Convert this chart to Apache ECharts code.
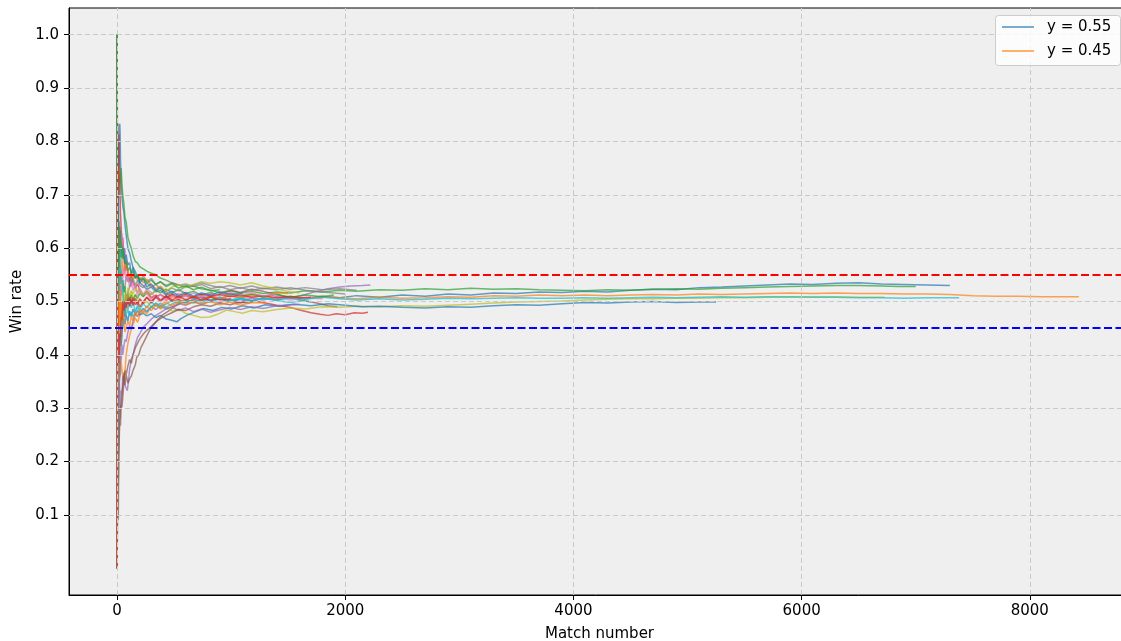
<!DOCTYPE html>
<html>
<head>
<meta charset="utf-8">
<title>Win rate by match number</title>
<script src="https://cdn.jsdelivr.net/npm/echarts@6/dist/echarts.min.js"></script>
<style>
  html, body { margin: 0; padding: 0; background: #ffffff; }
  #chart { width: 1121px; height: 641px; }
</style>
</head>
<body>
<div id="chart"></div>
<script>
// Axis ticks
const xTicks = [0, 2000, 4000, 6000, 8000];
const yTicks = [0.1, 0.2, 0.3, 0.4, 0.5, 0.6, 0.7, 0.8, 0.9, 1.0];

// Horizontal reference levels
const refLevels = [0.55, 0.45];
const refColors = ['#ff0000', '#0000ff'];

// Legend labels (attached to the first two runs)
const legendLabels = ['y = 0.55', 'y = 0.45'];

// Cumulative win rate per run: [match number, win rate]
const run01 = [[1,1],[2,1],[3,0.667],[4,0.75],[6,0.833],[8,0.75],[10,0.8],[13,0.769],[16,0.75],[20,0.8],[24,0.833],[27,0.815],[30,0.767],[36,0.722],[43,0.698],[50,0.68],[60,0.667],[70,0.643],[80,0.625],[95,0.6],[110,0.591],[125,0.576],[140,0.564],[160,0.556],[180,0.544],[200,0.535],[230,0.53],[260,0.523],[300,0.527],[340,0.518],[380,0.521],[430,0.512],[480,0.515],[540,0.507],[600,0.512],[670,0.505],[740,0.509],[820,0.502],[900,0.506],[990,0.5],[1080,0.505],[1180,0.501],[1280,0.507],[1400,0.503],[1520,0.509],[1650,0.505],[1800,0.51],[1950,0.507],[2100,0.511],[2300,0.508],[2500,0.512],[2700,0.51],[2900,0.514],[3100,0.512],[3300,0.516],[3500,0.515],[3700,0.518],[3900,0.517],[4100,0.519],[4300,0.518],[4500,0.521],[4700,0.523],[4900,0.522],[5100,0.526],[5300,0.527],[5500,0.529],[5700,0.531],[5900,0.533],[6100,0.532],[6300,0.534],[6500,0.535],[6700,0.533],[6900,0.532],[7100,0.531],[7300,0.53]];
const run02 = [[1,0],[2,0.5],[3,0.333],[4,0.5],[5,0.4],[6,0.5],[8,0.375],[10,0.4],[13,0.385],[16,0.438],[20,0.4],[25,0.36],[30,0.367],[36,0.389],[43,0.372],[50,0.36],[60,0.35],[70,0.371],[80,0.4],[95,0.421],[110,0.436],[125,0.448],[140,0.457],[160,0.469],[180,0.461],[200,0.475],[230,0.483],[260,0.477],[300,0.49],[340,0.497],[380,0.492],[430,0.502],[480,0.51],[540,0.504],[600,0.512],[670,0.507],[740,0.514],[820,0.51],[900,0.505],[990,0.511],[1080,0.507],[1180,0.512],[1280,0.509],[1400,0.505],[1520,0.509],[1650,0.506],[1800,0.51],[1950,0.507],[2100,0.505],[2300,0.508],[2500,0.506],[2700,0.507],[2900,0.509],[3100,0.508],[3300,0.511],[3500,0.51],[3700,0.512],[3900,0.511],[4100,0.512],[4300,0.511],[4500,0.512],[4700,0.513],[4900,0.512],[5100,0.514],[5300,0.513],[5500,0.514],[5700,0.515],[5900,0.516],[6100,0.515],[6300,0.516],[6500,0.515],[6700,0.515],[6900,0.514],[7100,0.514],[7300,0.513],[7500,0.511],[7700,0.51],[7900,0.51],[8100,0.509],[8430,0.509]];
const run03 = [[1,1],[2,0.5],[3,0.667],[4,0.75],[5,0.8],[6,0.667],[8,0.75],[10,0.7],[13,0.692],[16,0.75],[20,0.7],[25,0.72],[30,0.733],[36,0.75],[43,0.721],[50,0.7],[60,0.683],[70,0.657],[80,0.65],[95,0.621],[110,0.609],[125,0.6],[140,0.586],[160,0.575],[180,0.572],[200,0.565],[230,0.561],[260,0.557],[300,0.553],[340,0.55],[380,0.544],[430,0.54],[480,0.535],[540,0.531],[600,0.527],[670,0.529],[740,0.524],[820,0.521],[900,0.517],[990,0.52],[1080,0.516],[1180,0.519],[1280,0.515],[1400,0.518],[1520,0.516],[1650,0.52],[1800,0.518],[1950,0.521],[2100,0.519],[2300,0.522],[2500,0.521],[2700,0.524],[2900,0.522],[3100,0.525],[3300,0.523],[3500,0.524],[3700,0.522],[3900,0.521],[4100,0.52],[4300,0.522],[4500,0.521],[4700,0.523],[4900,0.524],[5100,0.523],[5300,0.525],[5500,0.526],[5700,0.527],[5900,0.528],[6100,0.529],[6300,0.53],[6500,0.53],[6700,0.529],[6850,0.528],[7000,0.528]];
const run04 = [[1,1],[2,1],[3,1],[4,0.75],[5,0.8],[6,0.833],[8,0.75],[10,0.7],[13,0.769],[16,0.813],[20,0.75],[25,0.72],[30,0.667],[36,0.639],[43,0.605],[50,0.62],[60,0.583],[70,0.557],[80,0.575],[95,0.547],[110,0.536],[125,0.552],[140,0.536],[160,0.525],[180,0.533],[200,0.52],[230,0.513],[260,0.519],[300,0.507],[340,0.512],[380,0.503],[430,0.509],[480,0.5],[540,0.504],[600,0.498],[670,0.503],[740,0.508],[820,0.502],[900,0.506],[990,0.501],[1080,0.497],[1180,0.502],[1280,0.498],[1400,0.493],[1520,0.489],[1600,0.484],[1700,0.479],[1780,0.476],[1850,0.474],[1920,0.477],[2000,0.475],[2080,0.479],[2150,0.478],[2200,0.48]];
const run05 = [[1,0],[2,0],[3,0.333],[4,0.25],[5,0.4],[6,0.333],[8,0.25],[10,0.3],[13,0.231],[16,0.313],[20,0.35],[25,0.32],[30,0.3],[36,0.333],[43,0.326],[50,0.36],[60,0.35],[70,0.343],[80,0.338],[90,0.333],[100,0.35],[110,0.373],[125,0.392],[140,0.4],[160,0.419],[180,0.433],[200,0.44],[230,0.452],[260,0.458],[300,0.467],[340,0.474],[380,0.479],[430,0.486],[480,0.49],[540,0.496],[600,0.493],[670,0.499],[740,0.495],[820,0.501],[900,0.498],[990,0.504],[1080,0.5],[1180,0.506],[1280,0.503],[1400,0.509],[1520,0.506],[1650,0.513],[1750,0.519],[1850,0.524],[1950,0.527],[2050,0.529],[2150,0.53],[2220,0.531]];
const run06 = [[1,0],[2,0],[3,0],[4,0.25],[5,0.2],[6,0.167],[8,0.25],[10,0.2],[13,0.231],[16,0.25],[20,0.3],[25,0.28],[30,0.3],[36,0.306],[43,0.326],[50,0.34],[60,0.367],[70,0.343],[80,0.363],[95,0.347],[110,0.355],[125,0.36],[140,0.371],[160,0.381],[172,0.395],[190,0.4],[210,0.414],[230,0.422],[260,0.435],[290,0.448],[320,0.456],[360,0.467],[400,0.475],[450,0.482],[500,0.49],[560,0.497],[620,0.503],[690,0.499],[760,0.506],[840,0.51],[920,0.515],[1000,0.521],[1080,0.517],[1180,0.523],[1280,0.519],[1400,0.513],[1520,0.507],[1650,0.501],[1750,0.497],[1850,0.492],[1930,0.49]];
const run07 = [[1,1],[2,0.5],[3,0.667],[4,0.5],[5,0.6],[6,0.5],[8,0.625],[10,0.6],[13,0.538],[16,0.563],[20,0.6],[25,0.64],[30,0.633],[36,0.611],[43,0.628],[50,0.6],[60,0.583],[70,0.6],[80,0.575],[95,0.558],[110,0.545],[125,0.528],[140,0.536],[160,0.525],[180,0.511],[200,0.52],[230,0.509],[260,0.515],[300,0.503],[340,0.509],[380,0.5],[430,0.507],[480,0.513],[540,0.506],[600,0.51],[670,0.503],[740,0.508],[820,0.512],[900,0.507],[990,0.511],[1080,0.506],[1180,0.509],[1280,0.504],[1400,0.508],[1520,0.503],[1650,0.507],[1800,0.505]];
const run08 = [[1,1],[2,1],[3,0.667],[4,0.5],[5,0.6],[6,0.667],[8,0.5],[10,0.5],[13,0.462],[16,0.5],[20,0.55],[25,0.52],[30,0.5],[36,0.528],[43,0.512],[50,0.54],[60,0.517],[70,0.529],[80,0.55],[95,0.537],[110,0.545],[125,0.536],[140,0.55],[160,0.544],[180,0.55],[200,0.54],[230,0.548],[260,0.538],[300,0.543],[340,0.532],[380,0.537],[430,0.53],[480,0.535],[540,0.53],[600,0.533],[670,0.528],[740,0.532],[820,0.524],[900,0.528],[990,0.522],[1080,0.526],[1180,0.521],[1280,0.525],[1400,0.522],[1520,0.526],[1650,0.521],[1800,0.518],[1900,0.516],[2000,0.514]];
const run09 = [[1,0],[2,0.5],[3,0.667],[4,0.5],[5,0.4],[6,0.5],[8,0.5],[10,0.4],[13,0.462],[16,0.438],[20,0.45],[25,0.48],[30,0.467],[36,0.5],[43,0.488],[50,0.46],[60,0.483],[70,0.471],[80,0.488],[95,0.505],[110,0.491],[125,0.52],[140,0.507],[160,0.513],[180,0.5],[200,0.505],[230,0.496],[260,0.5],[300,0.49],[340,0.494],[380,0.486],[430,0.49],[480,0.482],[540,0.486],[600,0.478],[670,0.474],[740,0.47],[812,0.471],[880,0.476],[960,0.484],[1030,0.481],[1100,0.478],[1180,0.483],[1280,0.481],[1400,0.485],[1520,0.488],[1650,0.486],[1800,0.49],[1950,0.489],[2100,0.491],[2300,0.49],[2500,0.492],[2700,0.491],[2900,0.493],[3100,0.495],[3300,0.497],[3500,0.499],[3700,0.5],[3900,0.501],[4100,0.503],[4300,0.504],[4500,0.505],[4700,0.505],[4900,0.506],[5100,0.506],[5300,0.507],[5500,0.507],[5700,0.508],[5900,0.508],[6100,0.509],[6300,0.509],[6500,0.508],[6725,0.508]];
const run10 = [[1,0],[2,0],[3,0],[4,0],[5,0.2],[6,0.167],[8,0.25],[10,0.3],[13,0.385],[16,0.375],[20,0.4],[25,0.44],[30,0.467],[36,0.444],[43,0.465],[50,0.48],[60,0.467],[70,0.486],[80,0.5],[95,0.484],[110,0.5],[125,0.488],[140,0.5],[160,0.481],[180,0.494],[200,0.485],[230,0.496],[260,0.488],[300,0.5],[340,0.491],[380,0.497],[430,0.489],[480,0.495],[540,0.502],[600,0.497],[670,0.504],[740,0.498],[820,0.503],[900,0.508],[990,0.503],[1080,0.507],[1180,0.502],[1280,0.506],[1400,0.503],[1520,0.507],[1650,0.504],[1800,0.508],[1950,0.505],[2100,0.503],[2300,0.505],[2500,0.503],[2700,0.504],[2900,0.506],[3100,0.505],[3300,0.506],[3500,0.507],[3700,0.506],[3900,0.506],[4100,0.507],[4300,0.506],[4500,0.507],[4700,0.508],[4900,0.507],[5100,0.508],[5300,0.509],[5500,0.508],[5700,0.509],[5900,0.509],[6100,0.508],[6300,0.508],[6500,0.507],[6700,0.507],[6900,0.506],[7100,0.507],[7380,0.507]];
const run11 = [[1,0],[2,0.5],[3,0.333],[4,0.25],[5,0.4],[6,0.333],[8,0.375],[10,0.4],[13,0.462],[16,0.5],[20,0.45],[25,0.48],[30,0.433],[36,0.417],[43,0.442],[50,0.44],[60,0.467],[70,0.457],[80,0.475],[95,0.463],[110,0.482],[125,0.472],[140,0.486],[160,0.475],[180,0.483],[200,0.475],[230,0.478],[260,0.473],[300,0.477],[340,0.47],[380,0.474],[430,0.467],[480,0.465],[523,0.462],[560,0.468],[620,0.475],[690,0.481],[760,0.487],[840,0.483],[920,0.489],[1000,0.486],[1100,0.492],[1200,0.488],[1300,0.494],[1420,0.491],[1550,0.495],[1700,0.492],[1850,0.496],[2000,0.493],[2150,0.49],[2300,0.491],[2500,0.489],[2700,0.488],[2900,0.49],[3100,0.489],[3300,0.492],[3500,0.494],[3700,0.493],[3900,0.496],[4100,0.498],[4300,0.497],[4500,0.499],[4700,0.5],[4900,0.498],[5100,0.499],[5250,0.499]];
const run12 = [[1,1],[2,0.5],[3,0.333],[4,0.5],[5,0.6],[6,0.5],[8,0.5],[10,0.6],[13,0.538],[16,0.5],[20,0.55],[25,0.52],[30,0.567],[36,0.556],[43,0.581],[50,0.56],[60,0.55],[70,0.571],[80,0.563],[95,0.558],[110,0.545],[125,0.552],[140,0.543],[160,0.55],[180,0.539],[200,0.545],[230,0.535],[260,0.542],[300,0.53],[340,0.524],[380,0.529],[430,0.519],[480,0.504],[540,0.498],[600,0.505],[670,0.497],[740,0.503],[820,0.509],[900,0.505],[990,0.511],[1080,0.507],[1180,0.513],[1280,0.51],[1400,0.516],[1500,0.515]];
const run13 = [[1,0],[2,0.5],[3,0.333],[4,0.5],[5,0.4],[6,0.5],[8,0.5],[10,0.6],[13,0.615],[16,0.563],[20,0.6],[25,0.56],[30,0.533],[36,0.556],[43,0.535],[50,0.54],[60,0.517],[70,0.529],[80,0.5],[95,0.516],[110,0.5],[125,0.512],[140,0.5],[160,0.513],[180,0.506],[200,0.515],[230,0.509],[260,0.519],[300,0.513],[340,0.521],[380,0.516],[430,0.523],[480,0.517],[540,0.522],[600,0.515],[670,0.519],[740,0.512],[820,0.517],[900,0.511],[990,0.515],[1080,0.51],[1180,0.514],[1280,0.509],[1400,0.513],[1520,0.508],[1650,0.512],[1800,0.509],[1900,0.512]];
const run14 = [[1,1],[2,0.5],[3,0.667],[4,0.75],[5,0.6],[6,0.667],[8,0.625],[10,0.5],[13,0.538],[16,0.5],[20,0.45],[25,0.48],[30,0.5],[36,0.472],[43,0.488],[50,0.5],[60,0.483],[70,0.5],[80,0.513],[95,0.495],[110,0.509],[125,0.496],[140,0.507],[160,0.494],[180,0.5],[200,0.49],[230,0.5],[260,0.508],[300,0.5],[340,0.509],[380,0.513],[430,0.507],[480,0.513],[540,0.509],[600,0.514],[670,0.508],[740,0.513],[820,0.51],[900,0.514],[990,0.509],[1080,0.512],[1180,0.508],[1280,0.511],[1400,0.507],[1520,0.51],[1600,0.507],[1700,0.508]];
const run15 = [[1,0],[2,0.5],[3,0.333],[4,0.25],[5,0.2],[6,0.333],[8,0.375],[10,0.3],[13,0.308],[16,0.375],[20,0.35],[25,0.36],[30,0.4],[36,0.389],[43,0.419],[50,0.4],[60,0.417],[70,0.429],[80,0.425],[95,0.442],[110,0.455],[125,0.448],[140,0.464],[160,0.475],[180,0.472],[200,0.48],[230,0.487],[260,0.481],[300,0.49],[340,0.485],[380,0.492],[430,0.486],[480,0.49],[540,0.483],[600,0.488],[670,0.481],[740,0.486],[820,0.48],[900,0.484],[990,0.489],[1080,0.485],[1180,0.49],[1280,0.487],[1400,0.492],[1520,0.494],[1600,0.495]];
const run16 = [[1,0],[2,0],[4,0],[6,0.167],[8,0.125],[11,0.091],[13,0.154],[16,0.188],[20,0.25],[25,0.28],[30,0.267],[36,0.306],[43,0.302],[50,0.32],[60,0.35],[70,0.371],[80,0.363],[95,0.379],[110,0.391],[125,0.384],[140,0.4],[160,0.413],[180,0.422],[200,0.43],[230,0.439],[260,0.446],[300,0.453],[340,0.462],[380,0.468],[430,0.474],[480,0.479],[540,0.485],[600,0.483],[670,0.49],[740,0.494],[820,0.491],[900,0.497],[990,0.494],[1080,0.499],[1150,0.497],[1200,0.5]];
const run17 = [[1,1],[2,0.5],[3,0.667],[4,0.5],[5,0.4],[6,0.5],[8,0.375],[10,0.4],[13,0.462],[16,0.438],[20,0.5],[25,0.52],[30,0.5],[36,0.528],[43,0.558],[50,0.54],[60,0.567],[70,0.557],[80,0.538],[95,0.547],[110,0.527],[125,0.536],[140,0.521],[160,0.531],[180,0.517],[200,0.525],[230,0.513],[260,0.523],[300,0.517],[340,0.506],[380,0.513],[430,0.502],[480,0.508],[540,0.515],[600,0.51],[670,0.516],[740,0.509],[820,0.515],[900,0.511],[990,0.517],[1080,0.512],[1180,0.516],[1280,0.511],[1400,0.513]];
const run18 = [[1,0],[2,0],[3,0.333],[4,0.25],[5,0.2],[6,0.167],[8,0.25],[10,0.2],[13,0.231],[16,0.313],[20,0.35],[25,0.4],[30,0.433],[36,0.417],[43,0.442],[50,0.46],[60,0.483],[70,0.471],[80,0.5],[95,0.516],[110,0.527],[125,0.536],[140,0.543],[160,0.531],[180,0.539],[200,0.53],[230,0.526],[260,0.535],[300,0.527],[340,0.532],[380,0.524],[430,0.519],[480,0.525],[540,0.52],[600,0.528],[670,0.531],[740,0.535],[820,0.53],[900,0.526],[990,0.53],[1080,0.525],[1180,0.529],[1280,0.524],[1400,0.527],[1520,0.523],[1650,0.526],[1800,0.522],[1950,0.524],[2100,0.521]];
const run19 = [[1,1],[2,1],[3,0.667],[4,0.75],[5,0.6],[6,0.5],[8,0.5],[10,0.5],[13,0.538],[16,0.5],[20,0.45],[25,0.44],[30,0.467],[36,0.5],[43,0.488],[50,0.52],[60,0.5],[70,0.514],[80,0.5],[95,0.526],[110,0.509],[125,0.52],[140,0.514],[160,0.525],[180,0.517],[200,0.52],[230,0.513],[260,0.519],[300,0.513],[340,0.521],[380,0.526],[430,0.52],[480,0.527],[540,0.531],[600,0.526],[670,0.532],[740,0.537],[820,0.534],[900,0.537],[990,0.535],[1080,0.531],[1180,0.535],[1280,0.529],[1400,0.524],[1500,0.519],[1600,0.516]];
const run20 = [[1,0],[2,0.5],[3,0.667],[4,0.5],[5,0.6],[6,0.5],[8,0.625],[10,0.5],[13,0.538],[16,0.5],[20,0.55],[25,0.6],[30,0.567],[36,0.556],[43,0.535],[50,0.52],[60,0.5],[70,0.486],[80,0.475],[95,0.484],[110,0.473],[125,0.48],[140,0.471],[160,0.481],[180,0.489],[200,0.48],[230,0.487],[260,0.481],[300,0.49],[340,0.497],[380,0.489],[430,0.495],[480,0.502],[540,0.496],[600,0.503],[670,0.498],[740,0.504],[820,0.499],[900,0.505],[990,0.5],[1080,0.505],[1180,0.501],[1280,0.506],[1400,0.502],[1520,0.498],[1600,0.501],[1700,0.5]];
const run21 = [[1,1],[2,1],[3,0.667],[4,0.75],[5,0.8],[6,0.667],[8,0.625],[10,0.7],[13,0.692],[16,0.625],[20,0.65],[25,0.6],[30,0.633],[36,0.583],[43,0.605],[50,0.58],[60,0.6],[70,0.571],[80,0.588],[95,0.568],[110,0.573],[125,0.552],[140,0.564],[160,0.544],[180,0.55],[200,0.535],[230,0.543],[260,0.527],[300,0.533],[340,0.521],[380,0.526],[430,0.514],[480,0.519],[540,0.511],[600,0.517],[670,0.51],[740,0.516],[820,0.512],[900,0.518],[990,0.513],[1100,0.515]];
const run22 = [[1,0],[2,0],[3,0.333],[4,0.5],[5,0.4],[6,0.333],[8,0.375],[10,0.5],[13,0.462],[16,0.5],[20,0.45],[25,0.52],[30,0.5],[36,0.472],[43,0.465],[50,0.48],[60,0.467],[70,0.443],[80,0.45],[95,0.463],[110,0.455],[125,0.472],[140,0.464],[160,0.481],[180,0.472],[200,0.485],[230,0.478],[260,0.492],[300,0.483],[340,0.494],[380,0.487],[430,0.498],[480,0.492],[540,0.5],[600,0.494],[670,0.501],[740,0.495],[820,0.5],[900,0.494],[990,0.499],[1080,0.493],[1180,0.498],[1300,0.497]];
const run23 = [[1,1],[2,0.5],[3,0.667],[4,0.5],[5,0.6],[6,0.667],[8,0.625],[10,0.6],[13,0.615],[16,0.563],[20,0.6],[25,0.64],[30,0.6],[36,0.611],[43,0.581],[50,0.6],[60,0.583],[70,0.571],[80,0.575],[95,0.558],[110,0.564],[125,0.552],[140,0.557],[160,0.544],[180,0.55],[200,0.54],[230,0.543],[260,0.535],[300,0.54],[340,0.532],[380,0.537],[430,0.528],[480,0.533],[540,0.525],[600,0.53],[670,0.522],[740,0.527],[820,0.52],[900,0.522]];
const run24 = [[1,0],[2,0.5],[3,0.667],[4,0.75],[5,0.6],[6,0.5],[8,0.5],[10,0.4],[13,0.385],[16,0.438],[20,0.4],[25,0.44],[30,0.433],[36,0.472],[43,0.465],[50,0.5],[60,0.483],[70,0.5],[80,0.488],[95,0.505],[110,0.491],[125,0.504],[140,0.493],[160,0.506],[180,0.494],[200,0.505],[230,0.496],[260,0.508],[300,0.497],[340,0.509],[380,0.5],[430,0.511],[480,0.502],[540,0.51],[600,0.503],[670,0.509],[740,0.502],[820,0.508],[900,0.503],[1000,0.505]];

const runs = [run01, run02, run03, run04, run05, run06, run07, run08, run09, run10,
              run11, run12, run13, run14, run15, run16, run17, run18, run19, run20,
              run21, run22, run23, run24];

// Matplotlib "tab10" colour cycle
const palette = ['#1f77b4', '#ff7f0e', '#2ca02c', '#d62728', '#9467bd',
                 '#8c564b', '#e377c2', '#7f7f7f', '#bcbd22', '#17becf'];

const FONT = "'DejaVu Sans', 'Liberation Sans', sans-serif";
const FONT_SIZE = 15;

const runSeries = runs.map((data, i) => {
  const c = palette[i % palette.length];
  return {
    type: 'line',
    name: i < legendLabels.length ? legendLabels[i] : 'run ' + (i + 1),
    data: data,
    symbol: 'none',
    showSymbol: false,
    silent: true,
    z: 3,
    color: c,
    lineStyle: { color: c, width: 1.5, opacity: 0.7 }
  };
});

// Dashed background grid, drawn beneath the runs
const gridSeries = {
  type: 'line',
  name: 'grid',
  data: [],
  silent: true,
  z: 1,
  markLine: {
    silent: true,
    animation: false,
    symbol: ['none', 'none'],
    label: { show: false },
    lineStyle: { color: '#c9c9c9', type: [5, 3], width: 1 },
    data: [
      ...xTicks.map(v => ({ xAxis: v })),
      ...yTicks.map(v => ({ yAxis: v }))
    ]
  }
};

// Reference levels, drawn above the runs
const refSeries = {
  type: 'line',
  name: 'levels',
  data: [],
  silent: true,
  z: 10,
  markLine: {
    silent: true,
    animation: false,
    symbol: ['none', 'none'],
    label: { show: false },
    data: refLevels.map((v, i) => ({
      yAxis: v,
      lineStyle: { color: refColors[i], type: [8, 3.5], width: 2 }
    }))
  }
};

// Legend box in the upper right: a line key and a label per entry
const LEGEND_X = 995, LEGEND_Y = 15, LEGEND_W = 125, LEGEND_ROW = 24;
const legendGraphics = [{
  type: 'rect',
  left: LEGEND_X,
  top: LEGEND_Y,
  z: 20,
  silent: true,
  shape: { width: LEGEND_W, height: 50, r: 3 },
  style: { fill: 'rgba(255,255,255,0.8)', stroke: '#cccccc', lineWidth: 1 }
}];
legendLabels.forEach((label, i) => {
  const cy = LEGEND_Y + 12 + i * LEGEND_ROW;
  legendGraphics.push({
    type: 'line',
    z: 21,
    silent: true,
    shape: { x1: LEGEND_X + 7, y1: cy, x2: LEGEND_X + 39, y2: cy },
    style: { stroke: palette[i], lineWidth: 1.5, opacity: 0.8 }
  });
  legendGraphics.push({
    type: 'text',
    z: 21,
    silent: true,
    x: LEGEND_X + 52,
    y: cy,
    style: {
      text: label, fill: '#000', font: FONT_SIZE + 'px ' + FONT,
      verticalAlign: 'middle', align: 'left'
    }
  });
});

const axisCommon = {
  type: 'value',
  axisLine: { show: true, onZero: false, lineStyle: { color: '#000', width: 1 } },
  axisTick: { show: true, inside: false, length: 5, lineStyle: { color: '#000', width: 1 } },
  splitLine: { show: false },
  nameLocation: 'middle',
  nameTextStyle: { color: '#000', fontSize: FONT_SIZE, fontFamily: FONT }
};

const option = {
  animation: false,
  backgroundColor: '#ffffff',
  grid: {
    show: true,
    left: 69,
    top: 8,
    right: -9,
    bottom: 46,
    outerBoundsMode: 'none',
    containLabel: false,
    backgroundColor: '#efefef',
    borderColor: '#000',
    borderWidth: 1
  },
  graphic: legendGraphics,
  xAxis: Object.assign({}, axisCommon, {
    min: -421,
    max: 8878,
    name: 'Match number',
    nameGap: 32,
    axisTick: Object.assign({}, axisCommon.axisTick, { customValues: xTicks }),
    axisLabel: {
      customValues: xTicks, margin: 9, color: '#000', fontSize: FONT_SIZE, fontFamily: FONT,
      formatter: v => String(v)
    }
  }),
  yAxis: Object.assign({}, axisCommon, {
    min: -0.05,
    max: 1.05,
    name: 'Win rate',
    nameGap: 41,
    axisTick: Object.assign({}, axisCommon.axisTick, { customValues: yTicks }),
    axisLabel: {
      customValues: yTicks, margin: 10, color: '#000', fontSize: FONT_SIZE, fontFamily: FONT,
      formatter: v => Number(v).toFixed(1)
    }
  }),
  series: [gridSeries, ...runSeries, refSeries]
};

const chart = echarts.init(document.getElementById('chart'), null, { renderer: 'canvas' });
chart.setOption(option);
</script>
</body>
</html>
